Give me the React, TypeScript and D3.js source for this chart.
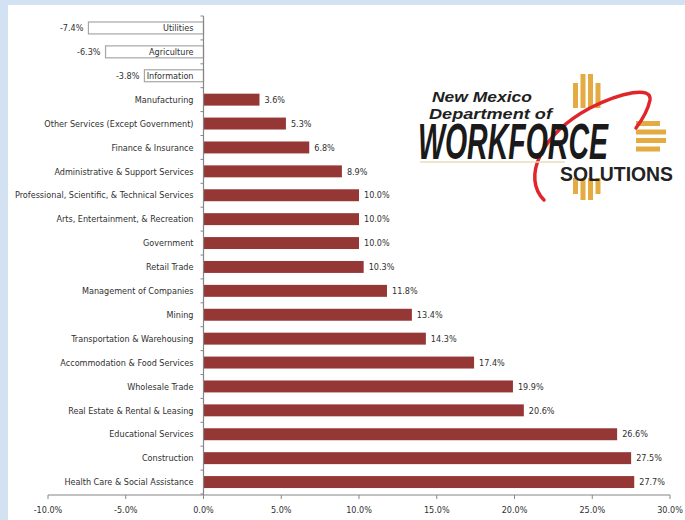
import React from "react";
import * as d3 from "d3";

const categories = [
  "Utilities",
  "Agriculture",
  "Information",
  "Manufacturing",
  "Other Services (Except Government)",
  "Finance & Insurance",
  "Administrative & Support Services",
  "Professional, Scientific, & Technical Services",
  "Arts, Entertainment,  & Recreation",
  "Government",
  "Retail Trade",
  "Management of Companies",
  "Mining",
  "Transportation & Warehousing",
  "Accommodation & Food Services",
  "Wholesale Trade",
  "Real Estate  & Rental & Leasing",
  "Educational Services",
  "Construction",
  "Health Care & Social Assistance",
];
const values = [-7.4, -6.3, -3.8, 3.6, 5.3, 6.8, 8.9, 10.0, 10.0, 10.0, 10.3, 11.8, 13.4, 14.3, 17.4, 19.9, 20.6, 26.6, 27.5, 27.7];
const xTicks = [-10, -5, 0, 5, 10, 15, 20, 25, 30];

const W = 685;
const H = 520;
const FONT = "'Liberation Sans Narrow', 'DejaVu Sans Condensed', 'Roboto Condensed', sans-serif";
const LOGO_FONT = "'Liberation Sans', Arial, sans-serif";

export default function App() {
  const x = d3.scaleLinear().domain([-10, 30]).range([48, 670]);
  const y = d3.scaleBand<string>().domain(categories).range([16, 494]).paddingInner(0.5).paddingOuter(0.25);
  const x0 = x(0);
  const axisY = 495;
  const bandEdges = d3.range(categories.length + 1).map((i) => 16 + i * ((494 - 16) / categories.length));
  const gold = "#e3ab42";

  return (
    <svg width={W} height={H} style={{ position: "absolute", left: 0, top: 0, display: "block" }}>
      <rect x={0} y={0} width={W} height={H} fill="#d3e2f3" />
      <rect x={8} y={5} width={W - 8} height={H - 5} fill="#ffffff" />

      {/* bars */}
      {categories.map((c, i) => {
        const v = values[i];
        const by = y(c)!;
        const bh = y.bandwidth();
        const neg = v < 0;
        const bx = neg ? x(v) : x0;
        const bw = Math.abs(x(v) - x0);
        return (
          <g key={c}>
            <rect
              x={bx}
              y={by}
              width={bw}
              height={bh}
              fill={neg ? "#ffffff" : "#953735"}
              stroke={neg ? "#a6a6a6" : "none"}
              strokeWidth={neg ? 1.2 : 0}
            />
            <text
              x={x0 - 10}
              y={by + bh / 2}
              dy="0.35em"
              textAnchor="end"
              fontSize={9}
              fontFamily={FONT}
              fill="#303030"
            >
              {c}
            </text>
            <text
              x={neg ? x(v) - 5 : x(v) + 5}
              y={by + bh / 2}
              dy="0.35em"
              textAnchor={neg ? "end" : "start"}
              fontSize={9}
              fontFamily={FONT}
              fill="#303030"
            >
              {v.toFixed(1) + "%"}
            </text>
          </g>
        );
      })}

      {/* y axis */}
      <line x1={x0} x2={x0} y1={16} y2={axisY} stroke="#868686" strokeWidth={1.2} />
      {bandEdges.map((e, i) => (
        <line key={i} x1={x0 - 3} x2={x0} y1={e} y2={e} stroke="#868686" strokeWidth={1} />
      ))}

      {/* x axis */}
      <line x1={x(-10)} x2={x(30)} y1={axisY} y2={axisY} stroke="#868686" strokeWidth={1.2} />
      {xTicks.map((t) => (
        <g key={t}>
          <line x1={x(t)} x2={x(t)} y1={axisY} y2={axisY + 4} stroke="#868686" strokeWidth={1} />
          <text x={x(t)} y={axisY + 18} textAnchor="middle" fontSize={9} fontFamily={FONT} fill="#303030">
            {t.toFixed(1) + "%"}
          </text>
        </g>
      ))}

      {/* logo */}
      <g>
        {[0, 1, 2, 3].map((k) => {
          const outer = k === 0 || k === 3;
          return <rect key={"t" + k} x={573 + k * 7.5} y={outer ? 83 : 74} width={5} height={outer ? 25 : 34} fill={gold} />;
        })}
        {[0, 1, 2, 3].map((k) => {
          const outer = k === 0 || k === 3;
          return <rect key={"r" + k} x={636} y={121 + k * 8.5} width={outer ? 24 : 30} height={5} fill={gold} />;
        })}
        {[0, 1, 2, 3].map((k) => {
          const outer = k === 0 || k === 3;
          return <rect key={"b" + k} x={573 + k * 7.5} y={178} width={5} height={outer ? 16 : 22} fill={gold} />;
        })}
        <path
          d="M 544 200 C 522 178, 540 135, 590 108 C 622 92, 652 86, 650 100 C 648 110, 642 120, 636 128"
          fill="none"
          stroke="#e0262b"
          strokeWidth={3.5}
          strokeLinecap="round"
        />
        <line x1={420} x2={565} y1={162} y2={162} stroke="#e8dcc0" strokeWidth={1.5} />
        <text x={432} y={102} fontFamily={LOGO_FONT} fontWeight="bold" fontStyle="italic" fontSize={14.5} fill="#1f1f1f" textLength={100} lengthAdjust="spacingAndGlyphs">
          New Mexico
        </text>
        <text x={429} y={119} fontFamily={LOGO_FONT} fontWeight="bold" fontStyle="italic" fontSize={14.5} fill="#1f1f1f" textLength={123} lengthAdjust="spacingAndGlyphs">
          Department of
        </text>
        <text
          x={418}
          y={159}
          fontFamily={LOGO_FONT}
          fontWeight="900"
          fontStyle="italic"
          fontSize={50}
          fill="#1a1a1a"
          textLength={190}
          lengthAdjust="spacingAndGlyphs"
        >
          WORKFORCE
        </text>
        <text
          x={560}
          y={181}
          fontFamily={LOGO_FONT}
          fontWeight="bold"
          fontSize={21}
          fill="#222"
          textLength={113}
          lengthAdjust="spacingAndGlyphs"
        >
          SOLUTIONS
        </text>
      </g>
    </svg>
  );
}
